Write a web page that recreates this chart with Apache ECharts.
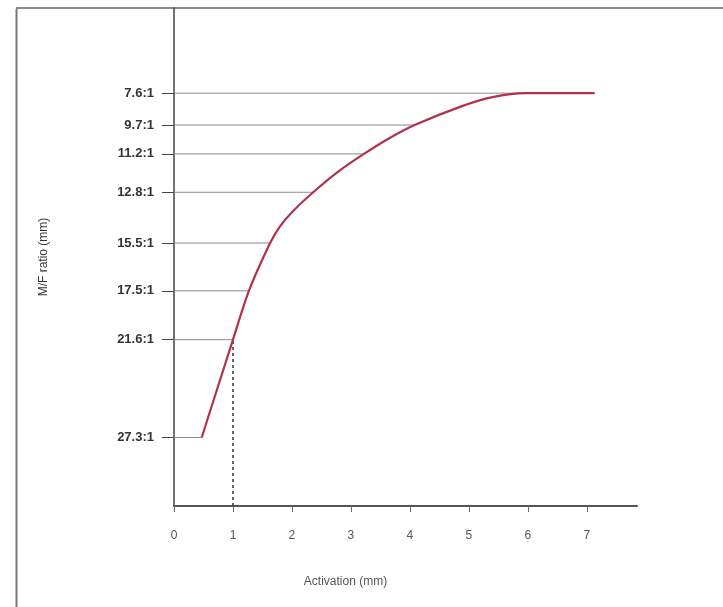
<!DOCTYPE html>
<html>
<head>
<meta charset="utf-8">
<script src="https://cdn.jsdelivr.net/npm/echarts@6/dist/echarts.min.js"></script>
<style>html,body{margin:0;padding:0;background:#fff}#c{width:723px;height:607px}</style>
</head>
<body>
<div id="c"></div>
<script>
// Ratio labels and their vertical positions (arbitrary axis units)
const ratioLabels = ['27.3:1', '21.6:1', '17.5:1', '15.5:1', '12.8:1', '11.2:1', '9.7:1', '7.6:1'];
const ratioLevels = [1.375, 3.34, 4.32, 5.28, 6.30, 7.07, 7.65, 8.29];
// Activation where the curve reaches each ratio level
const crossX = [0.47, 1.0, 1.27, 1.63, 2.36, 3.22, 4.08, 7.13];
// Curve points
const curveX = [0.47, 1.0, 1.27, 1.63, 1.8, 2.0, 2.36, 2.79, 3.22, 3.65, 4.08, 4.86, 5.4, 5.96, 6.5, 7.13];
const curveY = [1.375, 3.34, 4.32, 5.28, 5.62, 5.90, 6.30, 6.72, 7.07, 7.385, 7.65, 8.02, 8.21, 8.29, 8.29, 8.29];
const xTicks = [0, 1, 2, 3, 4, 5, 6, 7];

const chart = echarts.init(document.getElementById('c'));
const refSeries = ratioLevels.map((lv, i) => ({
  type: 'line', silent: true, symbol: 'none', z: 1,
  data: [[0, lv], [crossX[i], lv]],
  lineStyle: { color: '#8a8a8a', width: 1 }
}));
chart.setOption({
  animation: false,
  grid: { left: 174, right: 86, top: 8, bottom: 101 },
  xAxis: {
    type: 'value', min: 0, max: 7.85,
    name: 'Activation (mm)', nameLocation: 'middle', nameGap: 70,
    nameTextStyle: { color: '#555', fontSize: 12, fontFamily: 'Liberation Sans', padding: [0, 120, 0, 0] },
    axisLine: { lineStyle: { color: '#555', width: 2 } },
    axisTick: { show: true, customValues: xTicks, length: 6, lineStyle: { color: '#666' } },
    axisLabel: { customValues: xTicks, color: '#555', fontSize: 12, margin: 24, fontFamily: 'Liberation Sans' },
    splitLine: { show: false }
  },
  yAxis: {
    type: 'value', min: 0, max: 10,
    name: 'M/F ratio (mm)', nameLocation: 'middle', nameGap: 124,
    nameTextStyle: { color: '#333', fontSize: 12, fontFamily: 'Liberation Sans' },
    axisLine: { show: true, lineStyle: { color: '#444', width: 1.5 } },
    axisTick: { show: true, customValues: ratioLevels, length: 12, lineStyle: { color: '#444', width: 1 } },
    axisLabel: {
      customValues: ratioLevels, margin: 20, color: '#333', fontSize: 13, fontWeight: 'bold', fontFamily: 'Liberation Sans',
      formatter: v => { const i = ratioLevels.findIndex(l => Math.abs(l - v) < 1e-6); return i >= 0 ? ratioLabels[i] : ''; }
    },
    splitLine: { show: false }
  },
  graphic: [
    { type: 'line', shape: { x1: 16.5, y1: 9, x2: 16.5, y2: 607 }, style: { stroke: '#777', lineWidth: 2 } },
    { type: 'line', shape: { x1: 16, y1: 8, x2: 723, y2: 8 }, style: { stroke: '#888', lineWidth: 2 } }
  ],
  series: refSeries.concat([
    {
      type: 'line', silent: true, symbol: 'none', z: 2,
      data: [[1, 0], [1, ratioLevels[1]]],
      lineStyle: { color: '#333', width: 1.5, type: [3, 3] }
    },
    {
      type: 'line', symbol: 'none', smooth: 0.3, z: 3,
      data: curveX.map((x, i) => [x, curveY[i]]),
      lineStyle: { color: '#b3304c', width: 2.2 }
    }
  ])
});
</script>
</body>
</html>
